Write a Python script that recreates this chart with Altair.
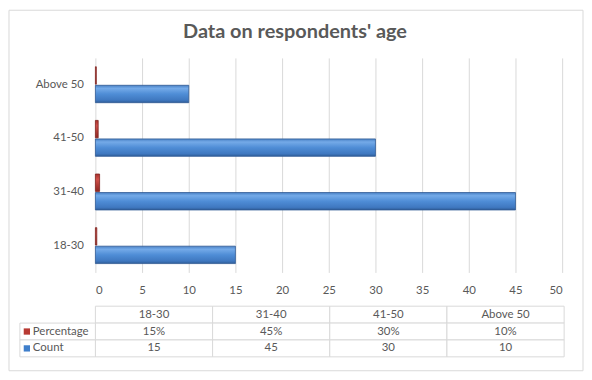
import altair as alt
import pandas as pd

# ---- data ----
categories = ["18-30", "31-40", "41-50", "Above 50"]
counts = [15, 45, 30, 10]
percentages = [0.15, 0.45, 0.30, 0.10]
series = ["Percentage", "Count"]
title_text = "Data on respondents' age"

FONT = "Lato"
GRAY = "#595959"
GRID = "#d9d9d9"

bars = pd.DataFrame({
    "category": categories * 2,
    "series": ["Percentage"] * len(categories) + ["Count"] * len(categories),
    "value": percentages + counts,
})

pct_labels = [f"{round(p * 100)}%" for p in percentages]
cnt_labels = [str(c) for c in counts]
table = pd.DataFrame({
    "category": categories * 3,
    "row": ["header"] * 4 + ["Percentage"] * 4 + ["Count"] * 4,
    "text": categories + pct_labels + cnt_labels,
})
row_labels = pd.DataFrame({"row": series})

W, H = 470, 216

blue_grad = alt.LinearGradient(
    gradient="linear", x1=0, y1=0, x2=0, y2=1,
    stops=[
        alt.GradientStop(offset=0, color="#4a82c6"),
        alt.GradientStop(offset=0.18, color="#74aae8"),
        alt.GradientStop(offset=0.5, color="#4f8dd6"),
        alt.GradientStop(offset=0.85, color="#3f78c0"),
        alt.GradientStop(offset=1, color="#2f5d98"),
    ],
)
red_grad = alt.LinearGradient(
    gradient="linear", x1=0, y1=0, x2=0, y2=1,
    stops=[
        alt.GradientStop(offset=0, color="#a8322c"),
        alt.GradientStop(offset=0.3, color="#d0504a"),
        alt.GradientStop(offset=1, color="#8e2722"),
    ],
)

enc = dict(
    y=alt.Y(
        "category:N",
        scale=alt.Scale(domain=categories[::-1], paddingInner=0.33, paddingOuter=0.165),
        axis=alt.Axis(title=None, ticks=False, domain=False, labelFont=FONT,
                      labelFontSize=11.5, labelColor=GRAY, labelPadding=12),
    ),
    yOffset=alt.YOffset("series:N", scale=alt.Scale(domain=series, paddingInner=0.06)),
    x=alt.X(
        "value:Q",
        scale=alt.Scale(domain=[0, 50], nice=False),
        axis=alt.Axis(title=None, values=list(range(0, 55, 5)), grid=True,
                      gridColor=GRID, domain=False, ticks=False, labelFont=FONT,
                      labelFontSize=11.5, labelColor=GRAY, labelPadding=12),
    ),
)

one = pd.DataFrame({"k": [0]})
border = alt.Chart(one).mark_rect(fill="transparent", stroke=GRID, strokeWidth=1).encode(
    x=alt.value(-87), x2=alt.value(491), y=alt.value(-48), y2=alt.value(315)
)
title = alt.Chart(one).mark_text(
    text=title_text, font=FONT, fontSize=20, fontWeight="bold", color=GRAY,
    baseline="middle", align="center"
).encode(x=alt.value(201), y=alt.value(-26))

count_layer = alt.Chart(bars).transform_filter(alt.datum.series == "Count").mark_bar(
    fill=blue_grad, stroke="#2f5a94", strokeWidth=0.8
).encode(**enc)
pct_layer = alt.Chart(bars).transform_filter(alt.datum.series == "Percentage").mark_bar(
    fill=red_grad, stroke="#7f231f", strokeWidth=0.8
).encode(**enc)

top = alt.layer(border, title, count_layer, pct_layer).properties(width=W, height=H)

tx = alt.X("category:N", scale=alt.Scale(domain=categories, paddingInner=0, paddingOuter=0), axis=None)
ty = alt.Y("row:N", scale=alt.Scale(domain=["header"] + series, paddingInner=0, paddingOuter=0), axis=None)

cells = alt.Chart(table).mark_rect(fill="white", stroke=GRID, strokeWidth=1).encode(x=tx, y=ty)
cell_text = alt.Chart(table).mark_text(font=FONT, fontSize=11.5, color=GRAY).encode(
    x=tx, y=ty, text="text:N"
)
label_cells = alt.Chart(row_labels).mark_rect(fill="white", stroke=GRID, strokeWidth=1).encode(
    x=alt.value(-76), x2=alt.value(0), y=ty
)
label_sq = alt.Chart(row_labels).mark_square(size=40, opacity=1).encode(
    x=alt.value(-69), y=ty,
    color=alt.Color("row:N", scale=alt.Scale(domain=series, range=["#b83a33", "#3f7fcb"]), legend=None),
)
label_text = alt.Chart(row_labels).mark_text(font=FONT, fontSize=11.5, color=GRAY, align="left").encode(
    x=alt.value(-63), y=ty, text="row:N"
)

tbl = alt.layer(cells, cell_text, label_cells, label_sq, label_text).properties(width=472, height=51)

chart = alt.vconcat(top, tbl, spacing=34, bounds="flush").resolve_scale(
    x="independent", y="independent", color="independent"
).configure_view(stroke=None).properties(padding=0, background="white")

chart.save("out.html", embed_options={"renderer": "svg", "actions": False})
